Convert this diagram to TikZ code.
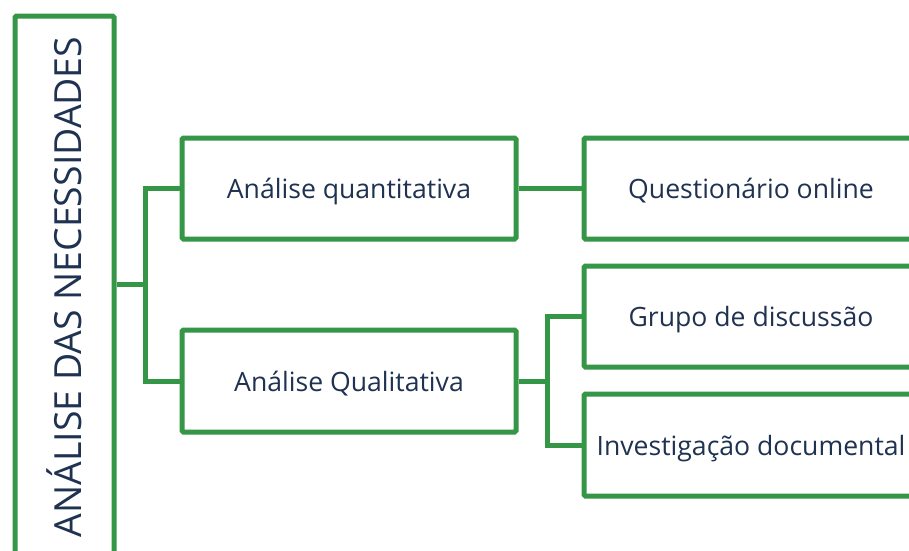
\documentclass[tikz,border=0pt]{standalone}
\usepackage{fontspec}
\setmainfont{Open Sans}
\definecolor{grn}{RGB}{52,150,70}
\definecolor{txt}{RGB}{31,50,81}
\begin{document}
\begin{tikzpicture}[x=1pt,y=-1pt,
  frame/.style={draw=grn, line width=5pt, rounded corners=1.5pt, inner sep=0pt},
  box/.style={frame, minimum width=334pt, minimum height=101pt, text=txt, text height=25pt, text depth=5pt, font=\fontsize{26.6}{31}\selectfont},
  link/.style={draw=grn, line width=5pt}]
\clip (0,0) rectangle (909,550);
\fill[white] (0,0) rectangle (909,550);
\node[frame, minimum width=99pt, minimum height=542pt] (root) at (64.5,287) {};
\node[rotate=90, text=txt, font=\fontsize{37.4}{44}\selectfont, inner sep=0pt] (roottext) at (root.center) {ANÁLISE DAS NECESSIDADES};
\node[box] (q1) at (349,188.5) {Análise quantitativa};
\node[box, minimum height=102pt] (q2) at (349,381) {Análise Qualitativa};
\node[box] (r1) at (751,188.5) {Questionário online};
\node[box] (r2) at (751,316.5) {Grupo de discussão};
\node[box, minimum height=102pt] (r3) at (751,445) {Investigação documental};
\coordinate (j1) at (148,284);
\coordinate (j2) at (550,381);
\draw[link] (root.east |- j1) -- (j1);
\draw[link] (q1.west) -- ++(-34,0) |- (q2.west);
\draw[link] (q1.east) -- (r1.west);
\draw[link] (q2.east) -- (j2);
\draw[link] (r2.west) -- ++(-34,0) |- (r3.west);
\end{tikzpicture}
\end{document}
